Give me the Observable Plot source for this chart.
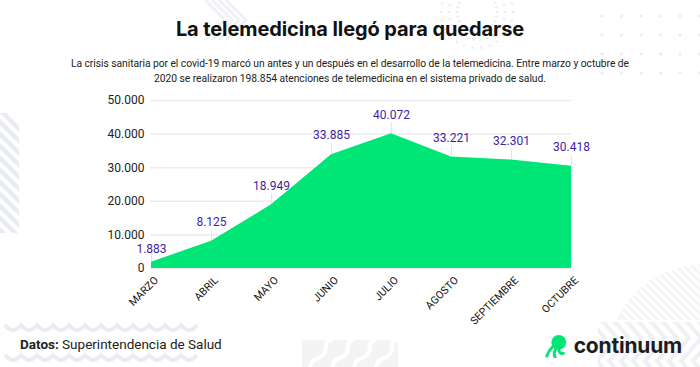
<!DOCTYPE html>
<html>
<head>
<meta charset="utf-8">
<script src="https://cdn.jsdelivr.net/npm/d3@7"></script>
<script src="https://cdn.jsdelivr.net/npm/@observablehq/plot@0.6"></script>
<style>
  html, body { margin: 0; padding: 0; background: #fff; }
  #wrap { position: relative; width: 700px; height: 367px; overflow: hidden; font-family: Roboto, "Noto Sans", sans-serif; }
  #bg { position: absolute; left: 0; top: 0; }
  #title { position: absolute; top: 17px; left: 0; width: 700px; text-align: center; font-family: Inter, Roboto, sans-serif; font-weight: 700; font-size: 20px; color: #111; letter-spacing: -0.1px; }
  #subtitle { position: absolute; top: 56px; left: 66px; width: 568px; text-align: center; font-size: 10.3px; line-height: 15px; color: #222; letter-spacing: -0.05px; }
  #chart { position: absolute; top: 88px; left: 0; }
  #source { position: absolute; left: 20px; top: 336px; font-size: 13.5px; color: #222; }
  #source b { font-weight: 700; }
  #logo { position: absolute; right: 18px; top: 333px; display: flex; align-items: center; font-family: Inter, Roboto, sans-serif; font-weight: 700; font-size: 21px; color: #1d1d1d; letter-spacing: -0.2px; }
</style>
</head>
<body>
<div id="wrap">
  <svg id="bg" width="700" height="367"></svg>
  <div id="title">La telemedicina llegó para quedarse</div>
  <div id="subtitle">La crisis sanitaria por el covid-19 marcó un antes y un después en el desarrollo de la telemedicina. Entre marzo y octubre de 2020 se realizaron 198.854 atenciones de telemedicina en el sistema privado de salud.</div>
  <div id="chart"></div>
  <div id="source"><b>Datos:</b> Superintendencia de Salud</div>
  <div id="logo"><svg width="24" height="24" viewBox="0 0 26 26" style="margin-right:6px"><circle cx="16" cy="9" r="8" fill="#00e676"/><path d="M10 13 C6 17 4 21 3 24 M13 15 C11 19 10 22 12 25 M16 16 C16 20 18 22 21 21" stroke="#00e676" stroke-width="3.2" fill="none" stroke-linecap="round"/></svg>continuum</div>
</div>
<script>
const months = ["MARZO", "ABRIL", "MAYO", "JUNIO", "JULIO", "AGOSTO", "SEPTIEMBRE", "OCTUBRE"];
const values = [1883, 8125, 18949, 33885, 40072, 33221, 32301, 30418];
const yTicks = [0, 10000, 20000, 30000, 40000, 50000];

const data = months.map((m, i) => ({month: m, value: values[i]}));
const locale = d3.formatLocale({decimal: ",", thousands: ".", grouping: [3], currency: ["", ""]});
const fmt = locale.format(",d");
const labelColor = "#3d1fa3";

const chart = Plot.plot({
  width: 700,
  height: 245,
  marginLeft: 150,
  marginRight: 129,
  marginTop: 12,
  marginBottom: 65,
  style: {fontFamily: "Roboto, sans-serif", background: "transparent", overflow: "visible"},
  x: {type: "point", domain: months, padding: 0, label: null},
  y: {domain: [0, 50000], label: null},
  marks: [
    Plot.ruleY(yTicks, {stroke: "#ebebeb", strokeWidth: 1.5}),
    Plot.ruleX(data, {x: "month", y1: "value", y2: "value", insetTop: -11, stroke: "#e4e4e4", strokeWidth: 1}),
    Plot.areaY(data, {x: "month", y: "value", fill: "#00e676", fillOpacity: 1}),
    Plot.text(data.slice(0, 1), {x: "month", y: "value", text: d => fmt(d.value), dy: -13, fill: labelColor, fontSize: 12}),
    Plot.text(data.slice(1), {x: "month", y: "value", text: d => fmt(d.value), dy: -19, fill: labelColor, fontSize: 12}),
    Plot.axisY({ticks: yTicks, tickFormat: fmt, tickSize: 0, tickPadding: 6, fontSize: 12, color: "#222", label: null}),
    Plot.axisX({tickSize: 0, tickRotate: -45, tickPadding: 6, dx: 5, dy: 4, fontSize: 10.6, color: "#111", label: null})
  ]
});
document.getElementById("chart").appendChild(chart);

// light background decoration
const bg = d3.select("#bg");
const deco = "#e9ecf0";
const defs = bg.append("defs");
// dot grid top right
for (let r = 0; r < 4; r++) for (let c = 0; c < 6; c++)
  bg.append("circle").attr("cx", 602 + c * 19.5).attr("cy", 16 + r * 19).attr("r", 1.6).attr("fill", deco);
// dotted ring near title
for (let k = 0; k < 3; k++) for (let a = 0; a < 26; a++) {
  const ang = a / 26 * 2 * Math.PI, rr = 20 + k * 8;
  bg.append("circle").attr("cx", 477 + rr * Math.cos(ang)).attr("cy", 12 + rr * Math.sin(ang)).attr("r", 1.2).attr("fill", deco);
}
// chevrons top left
for (let k = 0; k < 4; k++)
  bg.append("path").attr("d", `M${205 + k * 7} 0 L${225 + k * 7} 20 L${205 + k * 7} 40`).attr("stroke", "#f0f1f4").attr("stroke-width", 3).attr("fill", "none");
// stripes left
defs.append("clipPath").attr("id", "cl").append("rect").attr("x", 0).attr("y", 113).attr("width", 19).attr("height", 120);
const gl = bg.append("g").attr("clip-path", "url(#cl)");
for (let k = 0; k < 14; k++)
  gl.append("line").attr("x1", -20).attr("y1", 90 + k * 12).attr("x2", 30).attr("y2", 140 + k * 12).attr("stroke", deco).attr("stroke-width", 4.5);
// waves bottom left
for (let k = 0; k < 2; k++)
  bg.append("path").attr("d", `M5 ${325 + k * 30} q8 10 16 0 q8 10 16 0 q8 10 16 0 q8 10 16 0 q8 10 16 0 q8 10 16 0 q8 10 16 0 q8 10 16 0 q8 10 16 0 q8 10 16 0 q8 10 16 0 q8 10 16 0`).attr("stroke", deco).attr("stroke-width", 4).attr("fill", "none");
// S shapes bottom center
bg.append("rect").attr("x", 302).attr("y", 340).attr("width", 96).attr("height", 30).attr("fill", "#f3f4f6");
for (let k = 0; k < 4; k++)
  bg.append("path").attr("d", `M${310 + k * 22} 370 q0 -10 8 -12 q8 -2 8 -12 q0 -6 6 -6`).attr("stroke", "#fff").attr("stroke-width", 4).attr("fill", "none");
// hatched circle bottom right
defs.append("clipPath").attr("id", "cc").append("circle").attr("cx", 705).attr("cy", 362).attr("r", 98);
const g = bg.append("g").attr("clip-path", "url(#cc)");
g.append("rect").attr("x", 600).attr("y", 260).attr("width", 110).attr("height", 60).attr("fill", "#f4f5f7");
for (let k = 0; k < 30; k++)
  g.append("line").attr("x1", 560 + k * 8).attr("y1", 250).attr("x2", 680 + k * 8).attr("y2", 370).attr("stroke", "#fff").attr("stroke-width", 2.5);
// chevrons bottom right
defs.append("clipPath").attr("id", "cb").append("rect").attr("x", 598).attr("y", 322).attr("width", 102).attr("height", 45);
const gb = bg.append("g").attr("clip-path", "url(#cb)");
for (let k = 0; k < 10; k++)
  gb.append("path").attr("d", `M${585 + k * 12} 315 L${605 + k * 12} 338 L${585 + k * 12} 361 L${605 + k * 12} 384`).attr("stroke", "#eef0f3").attr("stroke-width", 4).attr("fill", "none");
</script>
</body>
</html>
